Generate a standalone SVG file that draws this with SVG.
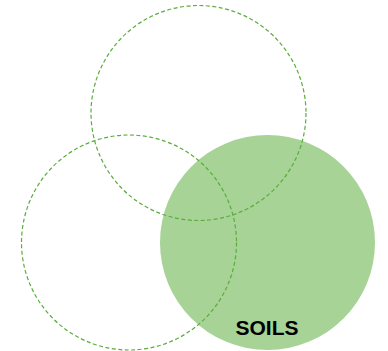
<svg xmlns="http://www.w3.org/2000/svg" width="388" height="351" viewBox="0 0 388 351">
<style>
.dash{fill:none;stroke:#5aad3c;stroke-width:1.2;stroke-dasharray:4 2.5}
.fill{fill:#a7d397}
.lbl{font-family:"Liberation Sans",Arial,sans-serif;font-weight:bold;font-size:21px;fill:#000;text-anchor:middle}
</style>
<rect width="388" height="351" fill="#fff"/>
<g id="soils">
<circle class="fill" cx="267.5" cy="242.5" r="107.5"/>
<text class="lbl" x="267" y="335">SOILS</text>
</g>
<g id="top">
<circle class="dash" cx="198.5" cy="113" r="107.5"/>
</g>
<g id="left">
<circle class="dash" cx="129" cy="242.5" r="107.5"/>
</g>
</svg>
